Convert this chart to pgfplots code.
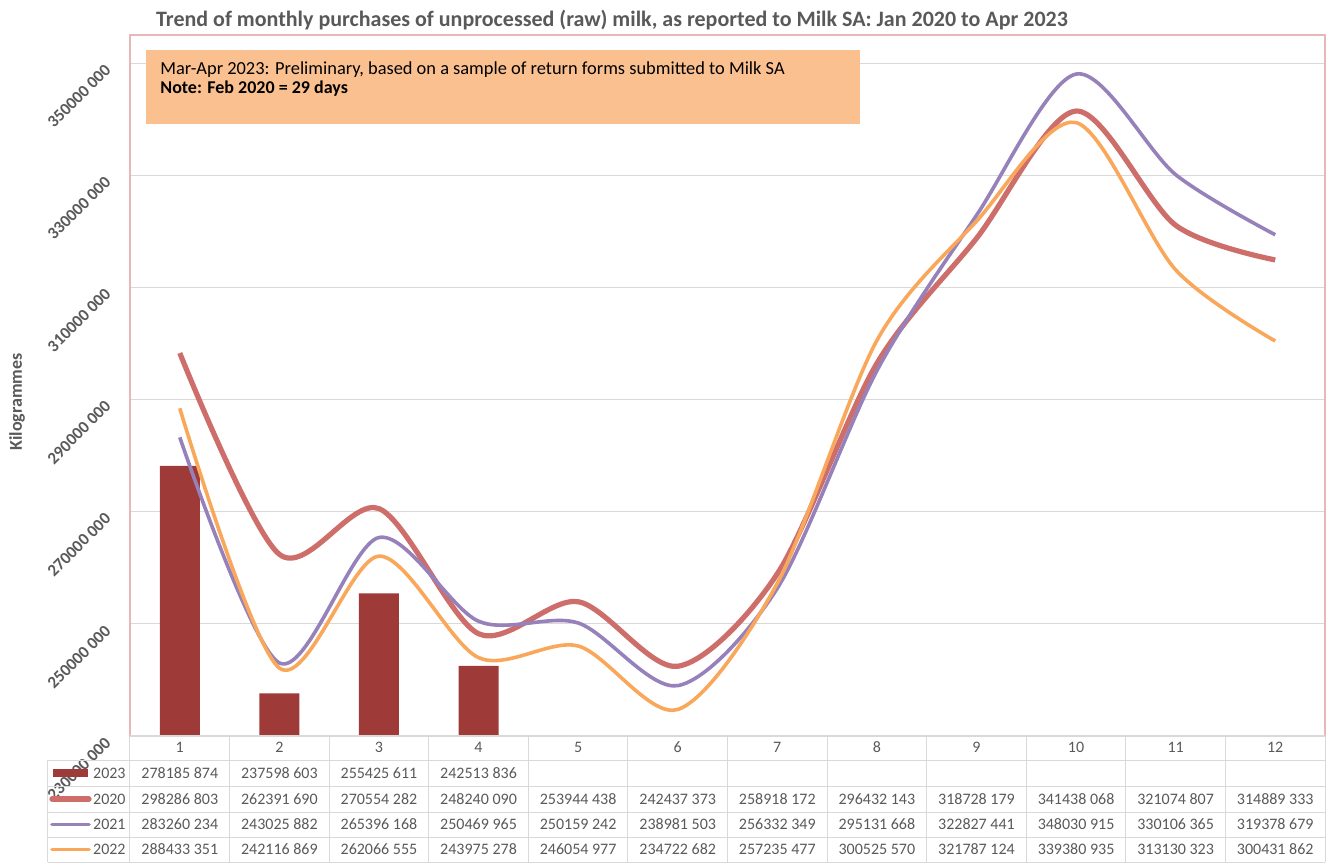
\documentclass[border=0pt]{standalone}
\usepackage{pgfplots}
\pgfplotsset{compat=1.18}
\usepackage{fontspec}
\setmainfont{Carlito}
\definecolor{bar23}{RGB}{158,58,56}
\definecolor{c20}{RGB}{205,110,107}
\definecolor{c21}{RGB}{151,129,186}
\definecolor{c22}{RGB}{249,167,91}
\definecolor{txt}{RGB}{89,89,89}
\definecolor{gridc}{RGB}{217,217,217}
\definecolor{framec}{RGB}{230,185,184}
\definecolor{boxfill}{RGB}{250,192,144}
\begin{document}
\begin{tikzpicture}
\useasboundingbox (-65pt,-63.5pt) rectangle (599pt,368pt);
\begin{axis}[
  at={(0,0)}, anchor=south west,
  width=597.5pt, height=350.5pt, scale only axis,
  xmin=0.5, xmax=12.5, ymin=230000000, ymax=355000000,
  axis line style={framec, line width=0.6pt},
  xtick={1,...,12}, xticklabels={1,2,3,4,5,6,7,8,9,10,11,12},
  xticklabel style={font=\fontsize{8}{9}\selectfont, text=txt, anchor=center, inner sep=1pt, yshift=-5.5pt},
  ytick={230000000,250000000,270000000,290000000,310000000,330000000,350000000},
  yticklabels={230000 000,250000 000,270000 000,290000 000,310000 000,330000 000,350000 000},
  yticklabel style={font=\bfseries\fontsize{8.5}{9}\selectfont, text=txt, xshift=-11pt, yshift=-2pt, rotate=45, anchor=east, inner sep=0pt},
  scaled y ticks=false,
  major tick length=0pt,
  ymajorgrids, grid style={gridc, line width=0.5pt},
]
\addplot[ybar, bar width=20pt, fill=bar23, draw=none] coordinates {(1,278185874) (2,237598603) (3,255425611) (4,242513836)};
\addplot[c20, line width=2.6pt, smooth] coordinates {(1,298286803) (2,262391690) (3,270554282) (4,248240090) (5,253944438) (6,242437373) (7,258918172) (8,296432143) (9,318728179) (10,341438068) (11,321074807) (12,314889333)};
\addplot[c21, line width=1.8pt, smooth] coordinates {(1,283260234) (2,243025882) (3,265396168) (4,250469965) (5,250159242) (6,238981503) (7,256332349) (8,295131668) (9,322827441) (10,348030915) (11,330106365) (12,319378679)};
\addplot[c22, line width=1.8pt, smooth] coordinates {(1,288433351) (2,242116869) (3,262066555) (4,243975278) (5,246054977) (6,234722682) (7,257235477) (8,300525570) (9,321787124) (10,339380935) (11,313130323) (12,300431862)};
\end{axis}
% bottom axis line (grey, table top)
\draw[gridc, line width=0.6pt] (0,0) -- (597.5pt,0);
% table grid
\foreach \k in {0,...,12} \draw[gridc, line width=0.5pt] ({\k*49.7917pt},0) -- ({\k*49.7917pt},-63pt);
\draw[gridc, line width=0.5pt] (-41pt,-12pt) -- (-41pt,-63pt);
\foreach \yy in {-12,-25,-38,-50.5,-63} \draw[gridc, line width=0.5pt] (-41pt,\yy pt) -- (597.5pt,\yy pt);
% legend keys
\fill[bar23] (-38.5pt,-20.5pt) rectangle (-21pt,-16.5pt);
\draw[c20, line width=2.6pt, line cap=round] (-39pt,-31.5pt) -- (-20.5pt,-31.5pt);
\draw[c21, line width=1.8pt, line cap=round] (-39pt,-44.25pt) -- (-20.5pt,-44.25pt);
\draw[c22, line width=1.8pt, line cap=round] (-39pt,-56.75pt) -- (-20.5pt,-56.75pt);
\begin{scope}[every node/.style={font=\fontsize{8}{9}\selectfont, text=txt, inner sep=1pt}]
\node[anchor=east] at (-1pt,-18.5pt) {2023};
\node[anchor=east] at (-1pt,-31.5pt) {2020};
\node[anchor=east] at (-1pt,-44.25pt) {2021};
\node[anchor=east] at (-1pt,-56.75pt) {2022};
\foreach \v [count=\i] in {278185 874,237598 603,255425 611,242513 836}
  \node at ({(\i-0.5)*49.7917pt},-18.5pt) {\v};
\foreach \v [count=\i] in {298286 803,262391 690,270554 282,248240 090,253944 438,242437 373,258918 172,296432 143,318728 179,341438 068,321074 807,314889 333}
  \node at ({(\i-0.5)*49.7917pt},-31.5pt) {\v};
\foreach \v [count=\i] in {283260 234,243025 882,265396 168,250469 965,250159 242,238981 503,256332 349,295131 668,322827 441,348030 915,330106 365,319378 679}
  \node at ({(\i-0.5)*49.7917pt},-44.25pt) {\v};
\foreach \v [count=\i] in {288433 351,242116 869,262066 555,243975 278,246054 977,234722 682,257235 477,300525 570,321787 124,339380 935,313130 323,300431 862}
  \node at ({(\i-0.5)*49.7917pt},-56.75pt) {\v};
\end{scope}
% annotation box
\fill[boxfill] (8pt,343pt) rectangle (365pt,306pt);
\node[anchor=west, font=\fontsize{9.2}{10}\selectfont, text=black, inner sep=0pt] at (15pt,333pt) {Mar-Apr 2023: Preliminary, based on a sample of return forms submitted to Milk SA};
\node[anchor=west, font=\bfseries\fontsize{9}{10}\selectfont, text=black, inner sep=0pt] at (15pt,323.5pt) {Note: Feb 2020 = 29 days};
% title and y label
\node[font=\bfseries\fontsize{11}{13}\selectfont, text=txt] at (241pt,358pt) {Trend of monthly purchases of unprocessed (raw) milk, as reported to Milk SA: Jan 2020 to Apr 2023};
\node[rotate=90, font=\bfseries\fontsize{9}{10}\selectfont, text=txt] at (-56.5pt,167pt) {Kilogrammes};
\end{tikzpicture}
\end{document}
